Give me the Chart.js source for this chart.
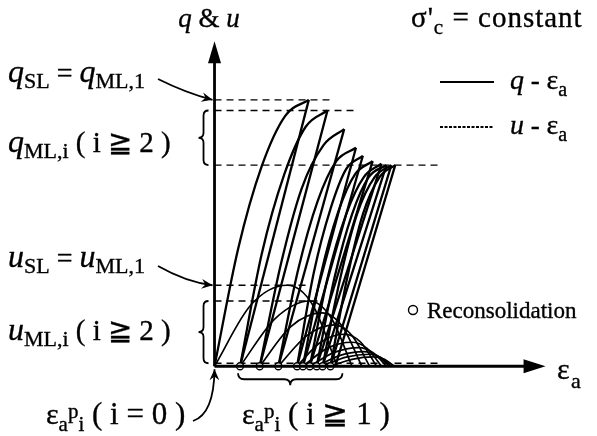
<!DOCTYPE html>
<html>
<head>
<meta charset="utf-8">
<script src="https://cdn.jsdelivr.net/npm/chart.js@4.4.1/dist/chart.umd.min.js"></script>
<style>
  html, body { margin: 0; padding: 0; background: #fff; }
  canvas { display: block; }
</style>
</head>
<body>
<canvas id="cyclicChart" width="597" height="436"></canvas>
<script>
  // strain at each reconsolidation (circles on the strain axis)
  const reconStrain = [0.26, 0.46, 0.65, 0.84, 0.90, 0.97, 1.04, 1.10, 1.18];

  // q - strain loading branches [strain, q]: start, three readings, peak
  const qLoading = [
    [[0, 0], [0.24, 0.44], [0.48, 0.75], [0.72, 0.94], [0.96, 1.0]],
    [[0.26, 0], [0.48, 0.42], [0.71, 0.72], [0.93, 0.90], [1.15, 0.96]],
    [[0.46, 0], [0.68, 0.39], [0.89, 0.67], [1.11, 0.83], [1.32, 0.89]],
    [[0.65, 0], [0.85, 0.36], [1.05, 0.62], [1.24, 0.77], [1.44, 0.82]],
    [[0.84, 0], [1.01, 0.35], [1.18, 0.59], [1.34, 0.74], [1.51, 0.79]],
    [[0.90, 0], [1.08, 0.34], [1.26, 0.58], [1.43, 0.72], [1.61, 0.77]],
    [[0.97, 0], [1.15, 0.33], [1.34, 0.57], [1.52, 0.71], [1.70, 0.76]],
    [[1.04, 0], [1.22, 0.33], [1.40, 0.57], [1.57, 0.71], [1.75, 0.755]],
    [[1.10, 0], [1.28, 0.33], [1.45, 0.57], [1.63, 0.71], [1.80, 0.755]],
    [[1.18, 0], [1.35, 0.33], [1.51, 0.57], [1.68, 0.71], [1.84, 0.755]]
  ];
  // last unloading has no reconsolidation after it
  const lastUnloadEnd = 1.23;

  // u - strain humps [strain, u]
  const uHumps = [
    [[0, 0], [0.37, 0.23], [0.74, 0.304], [1.00, 0.23], [1.25, 0]],
    [[0.26, 0], [0.62, 0.18], [0.97, 0.245], [1.19, 0.18], [1.40, 0]],
    [[0.46, 0], [0.78, 0.15], [1.10, 0.20], [1.30, 0.15], [1.50, 0]],
    [[0.65, 0], [0.94, 0.115], [1.22, 0.155], [1.40, 0.115], [1.58, 0]],
    [[0.84, 0], [1.08, 0.09], [1.32, 0.12], [1.49, 0.09], [1.65, 0]],
    [[0.90, 0], [1.15, 0.068], [1.40, 0.09], [1.55, 0.068], [1.70, 0]],
    [[0.97, 0], [1.22, 0.052], [1.47, 0.07], [1.61, 0.052], [1.75, 0]],
    [[1.04, 0], [1.28, 0.041], [1.52, 0.055], [1.65, 0.041], [1.78, 0]],
    [[1.10, 0], [1.34, 0.034], [1.58, 0.045], [1.69, 0.034], [1.80, 0]],
    [[1.18, 0], [1.40, 0.026], [1.62, 0.035], [1.73, 0.026], [1.83, 0]]
  ];

  // dashed reference levels and how far they run
  const qLevels = [1.0, 0.96, 0.755];
  const qLevelEnds = [1.17, 1.45, 2.30];
  const uLevels = [0.304, 0.245, 0.011];
  const uLevelEnds = [0.95, 1.10, 2.30];

  const FONT = "'Liberation Serif', 'DejaVu Serif', serif";

  function curve(points, width) {
    return {
      data: points.map(p => ({ x: p[0], y: p[1] })),
      showLine: true,
      borderColor: "#000",
      borderWidth: width,
      pointRadius: 0,
      cubicInterpolationMode: "monotone",
      fill: false,
      order: 1,
    };
  }

  function dashed(y, xEnd) {
    return {
      data: [{ x: 0, y: y }, { x: xEnd, y: y }],
      showLine: true,
      borderColor: "#000",
      borderWidth: 1.4,
      borderDash: [7, 5],
      pointRadius: 0,
      order: 2,
    };
  }

  const datasets = [];
  // reconsolidation circles on top
  datasets.push({
    data: reconStrain.map(x => ({ x: x, y: 0 })),
    showLine: false,
    pointRadius: 3.5,
    pointBackgroundColor: "#fff",
    pointBorderColor: "#000",
    pointBorderWidth: 1.3,
    order: 0,
  });
  qLoading.forEach(c => datasets.push(curve(c, 2.3)));
  // unloading: from each peak straight back to the next reconsolidation strain
  qLoading.forEach((c, i) => {
    const peak = c[c.length - 1];
    const end = i < reconStrain.length ? reconStrain[i] : lastUnloadEnd;
    datasets.push(curve([[end, 0], peak], 2.3));
  });
  uHumps.forEach(c => datasets.push(curve(c, 1.7)));
  qLevels.forEach((y, i) => datasets.push(dashed(y, qLevelEnds[i])));
  uLevels.forEach((y, i) => datasets.push(dashed(y, uLevelEnds[i])));

  // text with sub/superscripts: parts are [text, size, italic, dy]
  function rich(ctx, x, y, parts, align) {
    const fnt = p => (p[2] ? "italic " : "") + p[1] + "px " + FONT;
    let w = 0;
    parts.forEach(p => { ctx.font = fnt(p); w += ctx.measureText(p[0]).width; });
    let cx = align === "center" ? x - w / 2 : x;
    ctx.lineWidth = 0.35;
    parts.forEach(p => {
      ctx.font = fnt(p);
      ctx.fillText(p[0], cx, y + (p[3] || 0));
      ctx.strokeText(p[0], cx, y + (p[3] || 0));
      cx += ctx.measureText(p[0]).width;
    });
  }

  function arrowHead(ctx, x, y, ang, len, spread) {
    ctx.beginPath();
    ctx.moveTo(x, y);
    ctx.lineTo(x - len * Math.cos(ang - spread), y - len * Math.sin(ang - spread));
    ctx.lineTo(x - len * 0.6 * Math.cos(ang), y - len * 0.6 * Math.sin(ang));
    ctx.lineTo(x - len * Math.cos(ang + spread), y - len * Math.sin(ang + spread));
    ctx.closePath();
    ctx.fill();
  }

  function curvedArrow(ctx, x0, y0, cx, cy, x1, y1) {
    ctx.lineWidth = 1.8;
    ctx.beginPath();
    ctx.moveTo(x0, y0);
    ctx.quadraticCurveTo(cx, cy, x1, y1);
    ctx.stroke();
    arrowHead(ctx, x1, y1, Math.atan2(y1 - cy, x1 - cx), 12, 0.42);
  }

  function vBrace(ctx, x, y1, y2, w) {
    const m = (y1 + y2) / 2;
    ctx.lineWidth = 1.8;
    ctx.beginPath();
    ctx.moveTo(x + w, y1);
    ctx.quadraticCurveTo(x, y1, x, y1 + w);
    ctx.lineTo(x, m - w);
    ctx.quadraticCurveTo(x, m, x - w, m);
    ctx.quadraticCurveTo(x, m, x, m + w);
    ctx.lineTo(x, y2 - w);
    ctx.quadraticCurveTo(x, y2, x + w, y2);
    ctx.stroke();
  }

  function hBrace(ctx, x1, x2, y, w) {
    const m = (x1 + x2) / 2;
    ctx.lineWidth = 1.8;
    ctx.beginPath();
    ctx.moveTo(x1, y - w);
    ctx.quadraticCurveTo(x1, y, x1 + w, y);
    ctx.lineTo(m - w, y);
    ctx.quadraticCurveTo(m, y, m, y + w);
    ctx.quadraticCurveTo(m, y, m + w, y);
    ctx.lineTo(x2 - w, y);
    ctx.quadraticCurveTo(x2, y, x2, y - w);
    ctx.stroke();
  }

  // axes, arrows, braces and all labels
  const annotations = {
    id: "annotations",
    afterDatasetsDraw(chart) {
      const ctx = chart.ctx;
      const xs = chart.scales.x, ys = chart.scales.y;
      const ox = xs.getPixelForValue(0), oy = ys.getPixelForValue(0);
      const yTop = ys.getPixelForValue(1.22), xEnd = xs.getPixelForValue(3.37);
      ctx.save();
      ctx.strokeStyle = "#000";
      ctx.fillStyle = "#000";

      // axes
      ctx.lineWidth = 2.8;
      ctx.beginPath();
      ctx.moveTo(ox, oy);
      ctx.lineTo(ox, yTop + 15);
      ctx.moveTo(ox, oy);
      ctx.lineTo(xEnd - 15, oy);
      ctx.stroke();
      ctx.beginPath();
      ctx.moveTo(ox, yTop);
      ctx.lineTo(ox - 6.5, yTop + 22);
      ctx.lineTo(ox + 6.5, yTop + 22);
      ctx.closePath();
      ctx.fill();
      ctx.beginPath();
      ctx.moveTo(xEnd, oy);
      ctx.lineTo(xEnd - 22, oy - 7);
      ctx.lineTo(xEnd - 22, oy + 7);
      ctx.closePath();
      ctx.fill();

      // pointers to the axis levels
      const yq1 = ys.getPixelForValue(qLevels[0]);
      const yu1 = ys.getPixelForValue(uLevels[0]);
      curvedArrow(ctx, 158, 79, 186, 93, ox - 2, yq1);
      curvedArrow(ctx, 158, 266, 186, 282, ox - 2, yu1);
      curvedArrow(ctx, 193, 421, 214, 414, ox, oy + 3);

      // braces
      vBrace(ctx, ox - 11, ys.getPixelForValue(qLevels[1]), ys.getPixelForValue(qLevels[2]), 5);
      vBrace(ctx, ox - 11, ys.getPixelForValue(uLevels[1]), oy - 3, 5);
      hBrace(ctx, xs.getPixelForValue(reconStrain[0]) - 2, xs.getPixelForValue(reconStrain[reconStrain.length - 1]) + 12, oy + 13, 6);

      // legend
      ctx.lineWidth = 2.2;
      ctx.beginPath();
      ctx.moveTo(440, 82);
      ctx.lineTo(494, 82);
      ctx.stroke();
      ctx.setLineDash([3, 1.5]);
      ctx.lineWidth = 1.8;
      ctx.beginPath();
      ctx.moveTo(440, 127);
      ctx.lineTo(494, 127);
      ctx.stroke();
      ctx.setLineDash([]);
      rich(ctx, 510, 89, [["q", 28, 1], [" - ", 27], ["ε", 28], ["a", 20, 0, 7]]);
      rich(ctx, 510, 134, [["u", 28, 1], [" - ", 27], ["ε", 28], ["a", 20, 0, 7]]);

      // titles
      rich(ctx, 209, 27, [["q", 27, 1], [" & ", 27], ["u", 27, 1]], "center");
      ctx.letterSpacing = "1px";
      rich(ctx, 411, 27, [["σ", 29], ["'", 29], ["c", 21, 0, 7], [" = constant", 29]]);
      ctx.letterSpacing = "0px";

      // left-hand labels
      rich(ctx, 8, 82, [["q", 32, 1], ["SL", 22, 0, 6], [" = ", 28], ["q", 32, 1], ["ML,1", 22, 0, 6]]);
      rich(ctx, 8, 152, [["q", 32, 1], ["ML,i", 22, 0, 6], [" ( i ≧ 2 )", 29]]);
      rich(ctx, 8, 267, [["u", 32, 1], ["SL", 22, 0, 6], [" = ", 28], ["u", 32, 1], ["ML,1", 22, 0, 6]]);
      rich(ctx, 8, 340, [["u", 32, 1], ["ML,i", 22, 0, 6], [" ( i ≧ 2 )", 29]]);

      // plastic strain labels
      rich(ctx, 46, 424, [["ε", 30], ["a", 21, 0, 7], ["p", 21, 0, -6], ["i", 21, 0, 7], [" ( i = 0 )", 31]]);
      rich(ctx, 242, 424, [["ε", 30], ["a", 21, 0, 7], ["p", 21, 0, -6], ["i", 21, 0, 7], [" ( i ≧ 1 )", 31]]);

      // strain axis title
      rich(ctx, 557, 379, [["ε", 30], [" ", 6], ["a", 22, 0, 9]]);

      // reconsolidation key
      ctx.lineWidth = 1.4;
      ctx.beginPath();
      ctx.arc(413, 310, 4.5, 0, Math.PI * 2);
      ctx.stroke();
      rich(ctx, 427, 318, [["Reconsolidation", 23]]);

      ctx.restore();
    },
  };

  new Chart(document.getElementById("cyclicChart"), {
    type: "scatter",
    data: { datasets: datasets },
    options: {
      responsive: false,
      animation: false,
      layout: { padding: 0 },
      plugins: { legend: { display: false }, tooltip: { enabled: false } },
      scales: {
        x: { type: "linear", min: -2.13, max: 3.84, display: false },
        y: { type: "linear", min: -0.242, max: 1.355, display: false },
      },
    },
    plugins: [annotations],
  });
</script>
</body>
</html>
